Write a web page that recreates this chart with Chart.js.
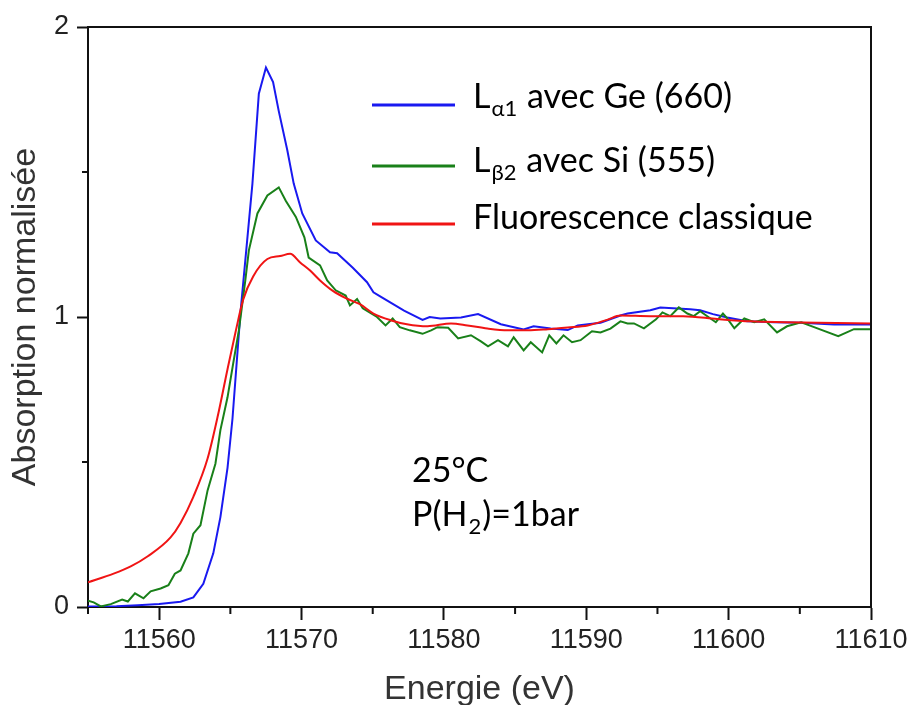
<!DOCTYPE html>
<html>
<head>
<meta charset="utf-8">
<script src="https://cdn.jsdelivr.net/npm/chart.js@4.4.0/dist/chart.umd.min.js"></script>
<style>
  html, body { margin: 0; padding: 0; background: #fff; }
  #wrap { width: 913px; height: 705px; }
</style>
</head>
<body>
<div id="wrap"><canvas id="xanes_chart" width="913" height="705"></canvas></div>
<script>
/////////////////////////////////// DATA ///////////////////////////////////
// energies (eV) and normalised absorption

const ge660_energy = [11555, 11557, 11558.5, 11560, 11561.5, 11562.4, 11563.1, 11563.8, 11564.3, 11564.8,
    11565.15, 11565.7, 11566.55, 11567.0, 11567.5, 11568.0, 11568.4, 11569.0, 11569.45, 11570.05,
    11571.0, 11572.0, 11572.5, 11573.6, 11574.6, 11575.05, 11575.55, 11577.2, 11578.5, 11579.0,
    11579.75, 11581.2, 11582.4, 11584.0, 11585.6, 11586.3, 11587.5, 11588.7, 11589.4, 11591.0,
    11592.4, 11592.9, 11594.5, 11595.2, 11596.1, 11597.3, 11598.0, 11598.9, 11599.9, 11601.3,
    11603.2, 11605.1, 11607.4, 11610];
const ge660_abs = [0.002, 0.003, 0.006, 0.01, 0.018, 0.033, 0.08, 0.185, 0.31, 0.48,
    0.65, 1.01, 1.46, 1.77, 1.86, 1.81, 1.71, 1.575, 1.46, 1.357,
    1.264, 1.223, 1.22, 1.17, 1.12, 1.085, 1.07, 1.022, 0.99, 1.0,
    0.995, 0.998, 1.01, 0.975, 0.957, 0.968, 0.96, 0.955, 0.971, 0.98,
    1.005, 1.012, 1.023, 1.033, 1.03, 1.027, 1.023, 1.01, 0.998, 0.985,
    0.982, 0.98, 0.974, 0.974];

const si555_energy = [11555, 11555.4, 11555.9, 11556.6, 11557.4, 11557.8, 11558.3, 11558.9, 11559.4, 11560.1,
    11560.65, 11561.1, 11561.5, 11562.05, 11562.4, 11562.9, 11563.4, 11563.95, 11564.3, 11564.8,
    11565.2, 11565.6, 11566.05, 11566.3, 11566.9, 11567.6, 11568.4, 11568.9, 11569.6, 11570.2,
    11570.5, 11571.3, 11571.8, 11572.4, 11573.1, 11573.4, 11573.9, 11574.3, 11575.3, 11575.9,
    11576.4, 11576.9, 11577.6, 11578.5, 11579.1, 11579.55, 11580.3, 11581.0, 11581.9, 11582.6,
    11583.1, 11583.8, 11584.5, 11584.9, 11585.6, 11586.1, 11586.9, 11587.4, 11587.9, 11588.4,
    11589.0, 11589.6, 11590.4, 11591.0, 11591.7, 11592.4, 11592.9, 11593.35, 11594.05, 11594.9,
    11595.35, 11595.9, 11596.5, 11597.1, 11597.55, 11598.0, 11598.6, 11599.1, 11599.6, 11599.9,
    11600.4, 11601.1, 11601.8, 11602.5, 11603.4, 11604.1, 11605.1, 11606.0, 11607.7, 11608.8,
    11610];
const si555_abs = [0.022, 0.016, 0.002, 0.01, 0.026, 0.019, 0.047, 0.03, 0.054, 0.064,
    0.075, 0.115, 0.126, 0.185, 0.253, 0.282, 0.402, 0.494, 0.61, 0.723,
    0.84, 0.955, 1.126, 1.23, 1.357, 1.419, 1.447, 1.40, 1.345, 1.275,
    1.205, 1.178, 1.126, 1.092, 1.074, 1.04, 1.062, 1.03, 1.0, 0.971,
    0.995, 0.965, 0.954, 0.942, 0.954, 0.965, 0.963, 0.926, 0.937, 0.916,
    0.899, 0.92, 0.899, 0.93, 0.885, 0.913, 0.878, 0.937, 0.909, 0.937,
    0.913, 0.92, 0.951, 0.947, 0.96, 0.985, 0.978, 0.978, 0.961, 0.992,
    1.016, 1.003, 1.033, 1.012, 1.003, 1.02, 0.999, 0.982, 1.012, 0.995,
    0.961, 0.995, 0.982, 0.992, 0.947, 0.968, 0.982, 0.965, 0.934, 0.958,
    0.958];

const fluo_energy = [11555, 11556.8, 11558.0, 11559.2, 11560.8, 11561.5, 11562.4, 11563.4, 11564.1, 11564.8,
    11565.35, 11565.9, 11566.6, 11567.6, 11568.5, 11569.2, 11569.9, 11570.6, 11571.3, 11572.2,
    11573.2, 11574.1, 11575.05, 11576.25, 11577.4, 11578.85, 11580.5, 11581.65, 11583.05, 11584.5,
    11585.9, 11587.3, 11588.7, 11590.1, 11591.5, 11592.4, 11594.5, 11596.8, 11599.2, 11601.55,
    11603.9, 11606.3, 11610];
const fluo_abs = [0.085, 0.115, 0.14, 0.175, 0.24, 0.29, 0.38, 0.512, 0.655, 0.82,
    0.945, 1.06, 1.14, 1.2, 1.21, 1.218, 1.188, 1.16, 1.126, 1.09,
    1.063, 1.044, 1.012, 0.989, 0.975, 0.968, 0.978, 0.971, 0.96, 0.954,
    0.954, 0.958, 0.964, 0.971, 0.991, 1.005, 1.003, 1.003, 0.993, 0.985,
    0.982, 0.98, 0.978];

const x_major_ticks = [11560, 11570, 11580, 11590, 11600, 11610];
const x_minor_ticks = [11555, 11565, 11575, 11585, 11595, 11605];
const y_minor_ticks = [0.5, 1.5];

// legend rows: main text, subscript, rest
const legend_rows = [
    { main: 'L', sub: 'α1', rest: ' avec Ge (660)', color: 'rgb(25, 25, 240)' },
    { main: 'L', sub: 'β2', rest: ' avec Si (555)', color: 'rgb(25, 128, 25)' },
    { main: 'Fluorescence classique', sub: '', rest: '', color: 'rgb(240, 20, 20)' }
];

/////////////////////////////////// FUNCTIONS ///////////////////////////////////

function toPoints(xs, ys) {
    return xs.map((x, i) => ({ x: x, y: ys[i] }));
}

function drawRich(ctx, x, y, main, sub, rest) {
    ctx.font = '34px Lato';
    ctx.fillText(main, x, y);
    x += ctx.measureText(main).width;
    if (sub) {
        ctx.font = '22px Lato';
        ctx.fillText(sub, x + 1, y + 8);
        x += ctx.measureText(sub).width + 2;
    }
    if (rest) {
        ctx.font = '34px Lato';
        ctx.fillText(rest, x, y);
    }
}

const extrasPlugin = {
    id: 'extras',
    afterDraw(chart) {
        const ctx = chart.ctx;
        const area = chart.chartArea;
        const xs = chart.scales.x;
        const ys = chart.scales.y;
        ctx.save();
        ctx.strokeStyle = '#111';
        ctx.lineWidth = 2;
        // top + right frame
        ctx.beginPath();
        ctx.moveTo(area.left - 1, area.top);
        ctx.lineTo(area.right, area.top);
        ctx.lineTo(area.right, area.bottom);
        ctx.stroke();
        // minor ticks
        ctx.beginPath();
        x_minor_ticks.forEach(v => {
            const px = xs.getPixelForValue(v);
            ctx.moveTo(px, area.bottom);
            ctx.lineTo(px, area.bottom + 7);
        });
        y_minor_ticks.forEach(v => {
            const py = ys.getPixelForValue(v);
            ctx.moveTo(area.left, py);
            ctx.lineTo(area.left - 6, py);
        });
        ctx.stroke();

        // legend
        const legendY = [105, 166, 224];
        const baseY = [108, 172, 229];
        legend_rows.forEach((row, i) => {
            ctx.strokeStyle = row.color;
            ctx.lineWidth = 3;
            ctx.beginPath();
            ctx.moveTo(372, legendY[i]);
            ctx.lineTo(455, legendY[i]);
            ctx.stroke();
            ctx.fillStyle = '#000';
            ctx.textBaseline = 'alphabetic';
            ctx.textAlign = 'left';
            drawRich(ctx, 473, baseY[i], row.main, row.sub, row.rest);
        });

        // conditions
        ctx.fillStyle = '#000';
        drawRich(ctx, 412, 482, '25°C', '', '');
        drawRich(ctx, 412, 526, 'P(H', '2', ')=1bar');
        ctx.restore();
    }
};

/////////////////////////////////// CHART ///////////////////////////////////

const ctx_xanes = document.getElementById('xanes_chart');

const xanes_chart = new Chart(ctx_xanes, {
    type: 'line',
    data: {
        datasets: [
            { label: 'Lα1 avec Ge (660)', data: toPoints(ge660_energy, ge660_abs), borderColor: 'rgb(25, 25, 240)', order: 2 },
            { label: 'Lβ2 avec Si (555)', data: toPoints(si555_energy, si555_abs), borderColor: 'rgb(25, 128, 25)', order: 1 },
            { label: 'Fluorescence classique', data: toPoints(fluo_energy, fluo_abs), borderColor: 'rgb(240, 20, 20)', order: 0, cubicInterpolationMode: 'monotone' }
        ]
    },
    options: {
        responsive: false,
        animation: false,
        devicePixelRatio: 1,
        layout: { padding: { top: 27, right: 42, left: 0, bottom: 0 } },
        elements: {
            point: { radius: 0 },
            line: { borderWidth: 2, tension: 0, fill: false }
        },
        plugins: {
            legend: { display: false },
            tooltip: { enabled: false }
        },
        scales: {
            x: {
                type: 'linear',
                min: 11555,
                max: 11610,
                afterBuildTicks: (scale) => { scale.ticks = x_major_ticks.map(v => ({ value: v })); },
                afterFit: (scale) => { scale.height = 98; },
                border: { color: '#111', width: 2 },
                grid: { drawOnChartArea: false, tickLength: 13, tickWidth: 2, tickColor: '#111' },
                ticks: {
                    autoSkip: false, maxRotation: 0, padding: 4, color: '#222',
                    font: { family: 'Liberation Sans', size: 27 },
                    callback: (v) => String(v)
                },
                title: {
                    display: true, text: 'Energie (eV)', color: '#333',
                    font: { family: 'Liberation Sans', size: 34, lineHeight: 1 },
                    padding: { top: 0, bottom: -2 }
                }
            },
            y: {
                min: 0,
                max: 2,
                afterFit: (scale) => { scale.width = 88; },
                border: { color: '#111', width: 2 },
                grid: { drawOnChartArea: false, tickLength: 11, tickWidth: 2, tickColor: '#111' },
                ticks: {
                    stepSize: 1, padding: 8, color: '#222',
                    font: { family: 'Liberation Sans', size: 27 }
                },
                title: {
                    display: true, text: 'Absorption normalisée', color: '#333',
                    font: { family: 'Liberation Sans', size: 34, lineHeight: 1 },
                    padding: { top: 9, bottom: 0 }
                }
            }
        }
    },
    plugins: [extrasPlugin]
});
</script>
</body>
</html>
